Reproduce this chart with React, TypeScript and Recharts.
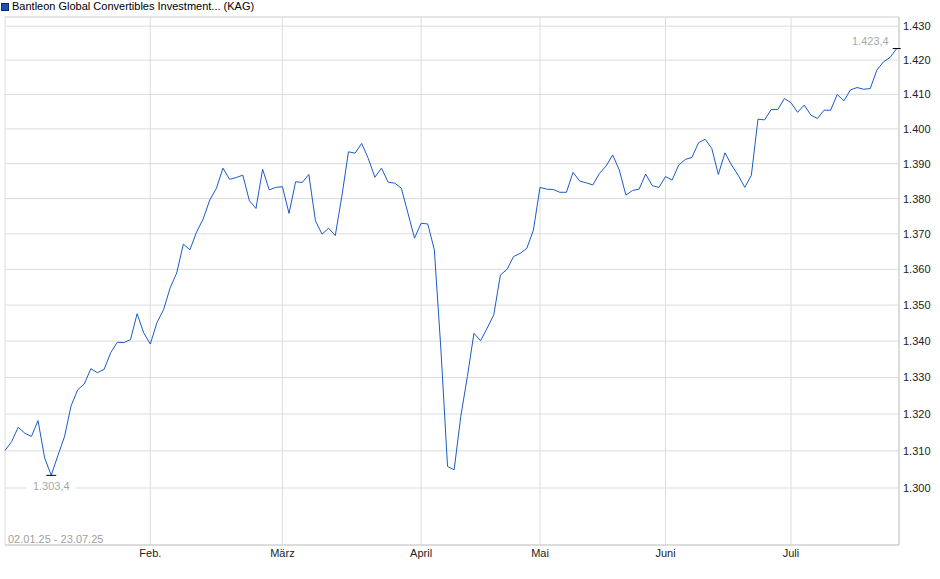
import React from "react";
import {
  LineChart,
  Line,
  XAxis,
  YAxis,
  CartesianGrid,
  ReferenceLine,
} from "recharts";

const fundName = "Bantleon Global Convertibles Investment... (KAG)";
const dateRange = "02.01.25 - 23.07.25";

// daily fund prices, 02.01.25 - 23.07.25
const prices = [
  1310.1, 1312.5, 1316.4, 1314.8, 1313.9, 1318.2, 1308.1, 1303.4, 1308.7, 1313.8,
  1322.2, 1326.6, 1328.2, 1332.4, 1331.3, 1332.2, 1336.8, 1339.7, 1339.6, 1340.4,
  1347.6, 1342.3, 1339.2, 1345.1, 1348.7, 1354.8, 1359.0, 1367.1, 1365.5, 1370.5,
  1374.2, 1379.6, 1382.9, 1388.7, 1385.5, 1386.0, 1386.7, 1379.4, 1377.2, 1388.4,
  1382.5, 1383.2, 1383.4, 1375.8, 1384.8, 1384.6, 1386.9, 1373.7, 1369.9, 1371.6,
  1369.5, 1380.7, 1393.4, 1393.0, 1395.8, 1391.5, 1386.1, 1388.7, 1384.7, 1384.4,
  1383.0, 1375.9, 1368.8, 1373.0, 1372.8, 1365.5, 1337.6, 1305.8, 1304.9, 1319.3,
  1330.2, 1342.2, 1340.1, 1343.6, 1347.3, 1358.4, 1360.0, 1363.6, 1364.5, 1365.9,
  1371.1, 1383.2, 1382.7, 1382.6, 1381.8, 1381.8, 1387.5, 1385.0, 1384.5, 1383.9,
  1387.2, 1389.3, 1392.5, 1388.2, 1381.0, 1382.3, 1382.7, 1387.0, 1383.7, 1383.2,
  1386.3, 1385.3, 1389.6, 1391.2, 1391.8, 1396.0, 1397.0, 1394.4, 1386.9, 1393.1,
  1389.6, 1386.7, 1383.2, 1386.7, 1402.8, 1402.6, 1405.6, 1405.6, 1408.8, 1407.6,
  1404.8, 1406.9, 1404.0, 1403.0, 1405.4, 1405.4, 1410.0, 1408.1, 1411.3, 1412.0,
  1411.5, 1411.7, 1417.1, 1419.5, 1420.8, 1423.4,
];

// index of first trading day of each month
const monthTicks = [0, 22, 42, 63, 81, 100, 119];
const monthLabels = ["", "Feb.", "März", "April", "Mai", "Juni", "Juli"];

const priceTicks = [
  1300, 1310, 1320, 1330, 1340, 1350, 1360, 1370, 1380, 1390, 1400, 1410, 1420,
  1430,
];
const priceDomain = [1284.8, 1432.7];

const data = prices.map((p, i) => ({ i, p }));
const maxIndex = prices.indexOf(Math.max(...prices));
const minIndex = prices.indexOf(Math.min(...prices));

function formatDe(v: number, digits = 0) {
  const [int, frac] = v.toFixed(digits).split(".");
  const grouped = int.replace(/\B(?=(\d{3})+(?!\d))/g, ".");
  return frac ? `${grouped},${frac}` : grouped;
}

const FONT = '"Liberation Sans", Arial, sans-serif';

const renderExtreme = (props: any) => {
  const { cx, cy, index } = props;
  if (index === maxIndex) {
    return (
      <g key="max">
        <line x1={cx - 4} x2={cx + 4} y1={cy} y2={cy} stroke="#000" />
        <text x={cx - 8} y={cy - 4} textAnchor="end" fill="#a8a8a8" fontSize={11}>
          {formatDe(prices[index], 1)}
        </text>
      </g>
    );
  }
  if (index === minIndex) {
    return (
      <g key="min">
        <line x1={cx - 5} x2={cx + 5} y1={cy} y2={cy} stroke="#000" />
        <rect x={cx - 25} y={cy + 5} width={50} height={12} fill="#fff" />
        <text x={cx} y={cy + 15} textAnchor="middle" fill="#a8a8a8" fontSize={11}>
          {formatDe(prices[index], 1)}
        </text>
      </g>
    );
  }
  return <g key={`d-${index}`} />;
};

export default function App() {
  return (
    <div
      style={{
        position: "absolute",
        left: 0,
        top: 0,
        width: 940,
        height: 579,
        background: "#fff",
        fontFamily: FONT,
      }}
    >
      <LineChart
        width={940}
        height={579}
        data={data}
        margin={{ top: 17, right: 0, bottom: 0, left: 5 }}
        style={{ fontFamily: FONT }}
      >
        <CartesianGrid stroke="#dcdcdc" />
        <ReferenceLine y={priceDomain[1]} stroke="#dcdcdc" ifOverflow="extendDomain" />
        <XAxis
          dataKey="i"
          type="number"
          domain={[0, 135.35]}
          ticks={monthTicks}
          interval={0}
          tickFormatter={(v: number) => monthLabels[monthTicks.indexOf(v)] ?? ""}
          height={34}
          axisLine={{ stroke: "#cccccc" }}
          tickLine={false}
          tickSize={0}
          tickMargin={4}
          tick={{ fontSize: 11, fill: "#222" }}
        />
        <YAxis
          orientation="right"
          type="number"
          scale="log"
          domain={priceDomain}
          allowDataOverflow
          ticks={priceTicks}
          interval={0}
          tickFormatter={(v: number) => formatDe(v)}
          width={41}
          axisLine={{ stroke: "#cccccc" }}
          tickLine={false}
          tickSize={0}
          tickMargin={4}
          tick={{ fontSize: 11, fill: "#222" }}
        />
        <Line
          type="linear"
          dataKey="p"
          stroke="#1c5bc6"
          strokeWidth={1}
          dot={renderExtreme}
          activeDot={false}
          isAnimationActive={false}
        />
      </LineChart>
      <div
        style={{
          position: "absolute",
          left: 1,
          top: 0,
          fontSize: 11,
          lineHeight: "12px",
          color: "#000",
          whiteSpace: "nowrap",
        }}
      >
        <span
          style={{
            display: "inline-block",
            width: 6,
            height: 6,
            background: "#1c50b8",
            border: "1px solid #0b2a6a",
            marginRight: 3,
            verticalAlign: "-1px",
          }}
        />
        {fundName}
      </div>
      <div
        style={{
          position: "absolute",
          left: 8,
          top: 533,
          fontSize: 11,
          lineHeight: "12px",
          color: "#a0a0a0",
          whiteSpace: "nowrap",
        }}
      >
        {dateRange}
      </div>
    </div>
  );
}
